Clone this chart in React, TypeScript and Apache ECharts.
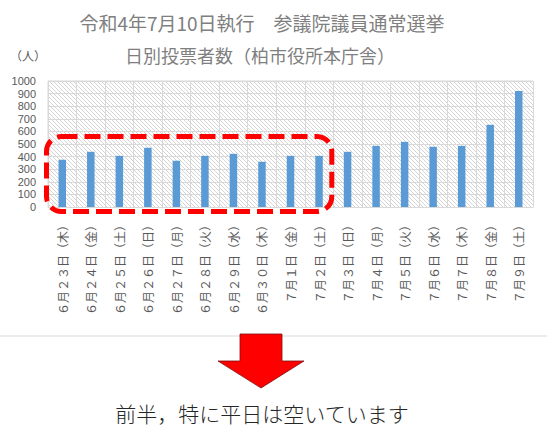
import React, { useEffect, useRef } from "react";
import * as echarts from "echarts";

const categories: string[] = [
  "６月２３日（木）",
  "６月２４日（金）",
  "６月２５日（土）",
  "６月２６日（日）",
  "６月２７日（月）",
  "６月２８日（火）",
  "６月２９日（水）",
  "６月３０日（木）",
  "７月１日（金）",
  "７月２日（土）",
  "７月３日（日）",
  "７月４日（月）",
  "７月５日（火）",
  "７月６日（水）",
  "７月７日（木）",
  "７月８日（金）",
  "７月９日（土）",
];

const voters: number[] = [375, 438, 406, 470, 367, 406, 422, 359, 406, 406, 438, 485, 517, 478, 485, 652, 921];

const titleLine1 = "令和4年7月10日執行　参議院議員通常選挙";
const titleLine2 = "日別投票者数（柏市役所本庁舎）";
const unitLabel = "（人）";
const caption = "前半，特に平日は空いています";

const highlightFrom = 0;
const highlightTo = 9;
const highlightTopValue = 600;

function makeHatch() {
  const c = document.createElement("canvas");
  c.width = 4;
  c.height = 4;
  const ctx = c.getContext("2d")!;
  ctx.fillStyle = "#ffffff";
  ctx.fillRect(0, 0, 4, 4);
  ctx.fillStyle = "#d4d4d4";
  for (let i = 0; i < 4; i++) ctx.fillRect(i, i, 1, 1);
  return { image: c.toDataURL(), repeat: "repeat", imageWidth: 4, imageHeight: 4 } as any;
}

export default function App() {
  const ref = useRef<HTMLDivElement>(null);
  useEffect(() => {
    const chart = echarts.init(ref.current!, null, { renderer: "svg" });
    const hatch = makeHatch();
    const cjk = "'Noto Sans CJK JP', 'Noto Sans', sans-serif";
    chart.setOption({
      animation: false,
      backgroundColor: "#ffffff",
      grid: {
        left: 48,
        right: 14,
        top: 81,
        bottom: 224,
        show: true,
        borderColor: "#d9d9d9",
        borderWidth: 1,
      },
      xAxis: {
        type: "category",
        data: categories,
        boundaryGap: true,
        axisLine: { show: true, lineStyle: { color: "#d9d9d9" } },
        axisTick: { show: false },
        splitLine: { show: true, interval: 0, lineStyle: { color: "#d9d9d9", width: 1 } },
        axisLabel: {
          interval: 0,
          rotate: 90,
          margin: 12,
          color: "#595959",
          fontSize: 12,
          fontFamily: cjk,
        },
      },
      yAxis: {
        type: "value",
        min: 0,
        max: 1000,
        interval: 100,
        axisLine: { show: false },
        axisTick: { show: false },
        axisLabel: {
          color: "#595959",
          fontSize: 11,
          lineHeight: 11,
          margin: 12,
          fontFamily: "'Liberation Sans', Arial, sans-serif",
          formatter: (v: number) => String(v),
        },
        splitLine: { show: true, lineStyle: { color: "#d9d9d9", width: 1 } },
        splitArea: { show: true, areaStyle: { color: [hatch] } },
      },
      series: [
        {
          type: "bar",
          data: voters,
          barWidth: 7.5,
          itemStyle: { color: "#5b9bd5" },
        },
      ],
    });

    const c0 = chart.convertToPixel({ xAxisIndex: 0 }, highlightFrom) as number;
    const c1 = chart.convertToPixel({ xAxisIndex: 0 }, highlightFrom + 1) as number;
    const cN = chart.convertToPixel({ xAxisIndex: 0 }, highlightTo) as number;
    const band = c1 - c0;
    const yTop = chart.convertToPixel({ yAxisIndex: 0 }, highlightTopValue) as number;
    const yZero = chart.convertToPixel({ yAxisIndex: 0 }, 0) as number;
    const bx0 = c0 - band / 2 - 1.5;
    const bx1 = cN + band / 2 - 1.5;
    const by0 = yTop + 5;
    const by1 = yZero + 4.5;

    chart.setOption({
      graphic: [
        {
          id: "t1",
          type: "text",
          x: 262,
          y: 22,
          style: { text: titleLine1, fill: "#7f7f7f", font: `19px ${cjk}`, textAlign: "center", textVerticalAlign: "middle" },
        },
        {
          id: "t2",
          type: "text",
          x: 260,
          y: 55,
          style: { text: titleLine2, fill: "#7f7f7f", font: `18px ${cjk}`, textAlign: "center", textVerticalAlign: "middle" },
        },
        {
          id: "unit",
          type: "text",
          x: 28,
          y: 55,
          style: { text: unitLabel, fill: "#595959", font: `12px ${cjk}`, textAlign: "center", textVerticalAlign: "middle" },
        },
        {
          id: "box",
          type: "rect",
          z: 100,
          shape: { x: bx0, y: by0, width: bx1 - bx0, height: by1 - by0, r: 15 },
          style: { fill: "none", stroke: "#ff0000", lineWidth: 5, lineDash: [16, 7] },
        },
        {
          id: "sep",
          type: "line",
          shape: { x1: 0, y1: 336, x2: 547, y2: 336 },
          style: { stroke: "#d9d9d9", lineWidth: 1 },
        },
        {
          id: "arrow",
          type: "polygon",
          shape: {
            points: [
              [240, 334],
              [282, 334],
              [282, 361],
              [304, 361],
              [261, 388],
              [218, 361],
              [240, 361],
            ],
          },
          style: { fill: "#ff0000", stroke: "#7a1010", lineWidth: 0.8 },
        },
        {
          id: "cap",
          type: "text",
          x: 262,
          y: 413,
          style: { text: caption, fill: "#262626", font: `300 21px ${cjk}`, textAlign: "center", textVerticalAlign: "middle" },
        },
      ],
    });

    return () => chart.dispose();
  }, []);
  return (
    <div
      ref={ref}
      style={{ position: "fixed", left: 0, top: 0, width: 547, height: 431, background: "#fff" }}
    />
  );
}
